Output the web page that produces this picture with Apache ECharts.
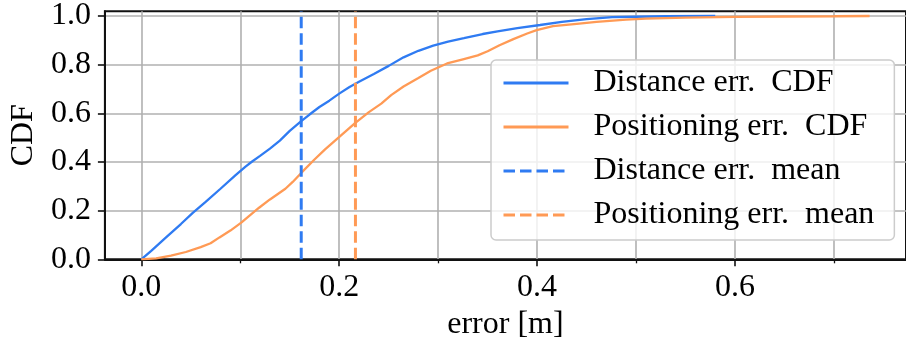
<!DOCTYPE html>
<html>
<head>
<meta charset="utf-8">
<script src="https://cdn.jsdelivr.net/npm/echarts@6/dist/echarts.min.js"></script>
<style>html,body{margin:0;padding:0;background:#fff}#c{width:906px;height:347px}</style>
</head>
<body>
<div id="c"></div>
<script>
// ---- data ----
const seriesNames = ['Distance err.  CDF', 'Positioning err.  CDF', 'Distance err.  mean', 'Positioning err.  mean'];
const distErrX = [0, 0.01, 0.025, 0.04, 0.052, 0.065, 0.08, 0.095, 0.105, 0.112, 0.12, 0.13, 0.14, 0.15, 0.1616, 0.17, 0.18, 0.19, 0.2, 0.21, 0.22, 0.235, 0.25, 0.265, 0.28, 0.295, 0.31, 0.326, 0.345, 0.36, 0.38, 0.403, 0.425, 0.45, 0.476, 0.5, 0.53, 0.58];
const distErrCdf = [0, 0.035, 0.09, 0.145, 0.191, 0.236, 0.29, 0.345, 0.38, 0.402, 0.425, 0.455, 0.488, 0.528, 0.568, 0.595, 0.626, 0.652, 0.681, 0.707, 0.73, 0.762, 0.795, 0.83, 0.857, 0.878, 0.895, 0.909, 0.926, 0.937, 0.95, 0.963, 0.976, 0.987, 0.995, 0.997, 0.999, 1.0];
const posErrX = [0, 0.015, 0.03, 0.045, 0.06, 0.07, 0.079, 0.09, 0.101, 0.11, 0.119, 0.13, 0.1456, 0.153, 0.1616, 0.175, 0.1857, 0.2007, 0.216, 0.23, 0.2425, 0.2525, 0.265, 0.28, 0.2926, 0.309, 0.325, 0.34, 0.35, 0.362, 0.376, 0.39, 0.3995, 0.416, 0.44, 0.46, 0.49, 0.51, 0.55, 0.6, 0.65, 0.7, 0.736];
const posErrCdf = [0, 0.004, 0.015, 0.03, 0.05, 0.066, 0.09, 0.118, 0.151, 0.182, 0.212, 0.246, 0.29, 0.318, 0.355, 0.41, 0.452, 0.505, 0.56, 0.605, 0.64, 0.675, 0.71, 0.745, 0.775, 0.805, 0.822, 0.838, 0.855, 0.88, 0.905, 0.928, 0.942, 0.958, 0.968, 0.976, 0.985, 0.989, 0.993, 0.996, 0.998, 0.999, 1.0];
const distErrMean = 0.1616;
const posErrMean = 0.2164;
const xMajorTicks = [0, 0.2, 0.4, 0.6];
const xMinorTicks = [0.1, 0.3, 0.5, 0.7];
const yTicks = [0, 0.2, 0.4, 0.6, 0.8, 1.0];
const xRange = [-0.0368, 0.7728];
const yRange = [0, 1.02];

// ---- style ----
const BLUE = '#2f7bf2';
const ORANGE = '#ff9a55';
const FONT = 'Liberation Serif';
const FS = 32;

const zip = (xs, ys) => xs.map((x, i) => [x, ys[i]]);

const chart = echarts.init(document.getElementById('c'), null, {renderer: 'canvas'});
const gridLine = {show: true, lineStyle: {color: '#b0b0b0', width: 1.6}};
chart.setOption({
  animation: false,
  backgroundColor: '#fff',
  textStyle: {fontFamily: FONT},
  grid: {left: 102, top: 6, right: -4, bottom: 87.7, show: true, borderColor: '#111', borderWidth: 2, backgroundColor: 'transparent'},
  xAxis: [{
    type: 'value', min: xRange[0], max: xRange[1], position: 'bottom',
    name: 'error [m]', nameLocation: 'middle', nameGap: 47,
    nameTextStyle: {fontFamily: FONT, fontSize: FS, color: '#000'},
    axisLine: {show: true, onZero: false, lineStyle: {color: '#111', width: 2}},
    axisTick: {show: true, length: 7, customValues: xMajorTicks, lineStyle: {color: '#111', width: 1.6}},
    axisLabel: {customValues: xMajorTicks, margin: 12, fontFamily: FONT, fontSize: FS, color: '#000', formatter: v => v.toFixed(1)},
    splitLine: gridLine
  }, {
    type: 'value', min: xRange[0], max: xRange[1], position: 'bottom', gridIndex: 0,
    axisLine: {show: false, onZero: false},
    axisTick: {show: true, length: 4, customValues: xMinorTicks, lineStyle: {color: '#111', width: 1.3}},
    axisLabel: {show: false},
    splitLine: gridLine
  }],
  yAxis: {
    type: 'value', min: yRange[0], max: yRange[1],
    name: 'CDF', nameLocation: 'middle', nameGap: 64, nameRotate: 90,
    nameTextStyle: {fontFamily: FONT, fontSize: FS, color: '#000'},
    axisLine: {show: true, onZero: false, lineStyle: {color: '#111', width: 2}},
    axisTick: {show: true, length: 7, customValues: yTicks, lineStyle: {color: '#111', width: 1.6}},
    axisLabel: {customValues: yTicks, margin: 14, fontFamily: FONT, fontSize: FS, color: '#000', formatter: v => v.toFixed(1)},
    splitLine: gridLine
  },
  legend: {
    show: true, orient: 'vertical', left: 491, top: 60,
    selectedMode: false,
    itemWidth: 65, itemHeight: 14, itemGap: 12,
    padding: [7, 20, 9, 11],
    itemStyle: {opacity: 0},
    lineStyle: {width: 3},
    backgroundColor: 'rgba(255,255,255,0.8)', borderColor: '#cccccc', borderWidth: 1.5, borderRadius: 5,
    textStyle: {fontFamily: FONT, fontSize: FS, color: '#000', lineHeight: 32, padding: [0, 0, 0, 20]},
    data: seriesNames
  },
  series: [
    {name: seriesNames[0], type: 'line', data: zip(distErrX, distErrCdf), symbol: 'none', lineStyle: {color: BLUE, width: 2.3}, itemStyle: {color: BLUE}, z: 2},
    {name: seriesNames[1], type: 'line', data: zip(posErrX, posErrCdf), symbol: 'none', lineStyle: {color: ORANGE, width: 2.3}, itemStyle: {color: ORANGE}, z: 3},
    {name: seriesNames[2], type: 'line', data: [[distErrMean, yRange[0]], [distErrMean, yRange[1]]], symbol: 'none', lineStyle: {color: BLUE, width: 3, type: [11.5, 5]}, itemStyle: {color: BLUE}, z: 4},
    {name: seriesNames[3], type: 'line', data: [[posErrMean, yRange[0]], [posErrMean, yRange[1]]], symbol: 'none', lineStyle: {color: ORANGE, width: 3, type: [11.5, 5]}, itemStyle: {color: ORANGE}, z: 5}
  ]
});
</script>
</body>
</html>
